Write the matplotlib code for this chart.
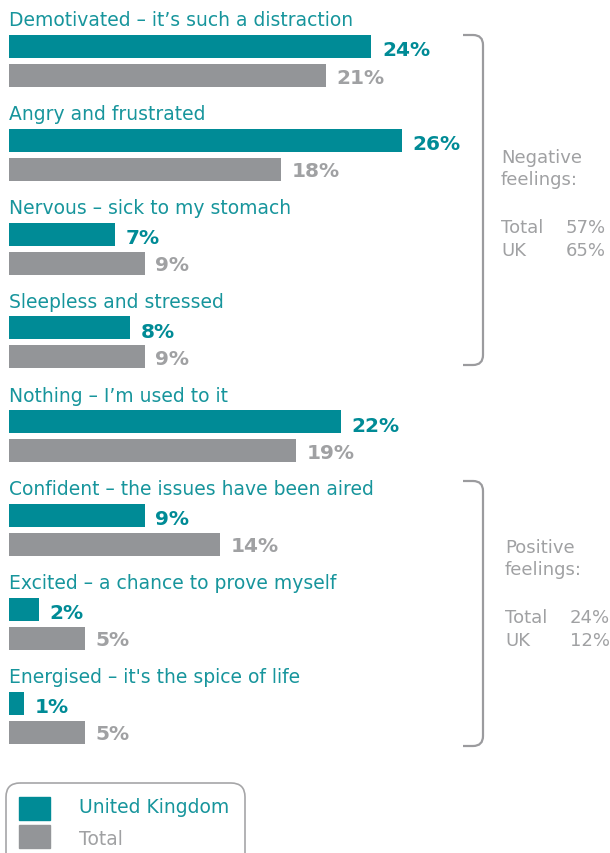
import numpy as np
import matplotlib
matplotlib.use("Agg")
import matplotlib.pyplot as plt
from matplotlib.path import Path
from matplotlib.patches import PathPatch, FancyBboxPatch, Rectangle

plt.rcParams['font.family'] = ['DejaVu Sans']

# data
labels = ["Demotivated \u2013 it\u2019s such a distraction",
          "Angry and frustrated",
          "Nervous \u2013 sick to my stomach",
          "Sleepless and stressed",
          "Nothing \u2013 I\u2019m used to it",
          "Confident \u2013 the issues have been aired",
          "Excited \u2013 a chance to prove myself",
          "Energised \u2013 it's the spice of life"]
uk = [24, 26, 7, 8, 22, 9, 2, 1]
total = [21, 18, 9, 9, 19, 14, 5, 5]
neg_summary = [("Total", "57%"), ("UK", "65%")]
pos_summary = [("Total", "24%"), ("UK", "12%")]

TEAL = "#008B96"
TEAL_TXT = "#17959C"
GREY = "#939598"
GREY_TXT = "#A0A1A3"

W, H = 610, 854
x0, pxper = 9, 15.1
step = 93.8

fig = plt.figure(figsize=(W / 100, H / 100), dpi=100)
ax = fig.add_axes([0, 0, 1, 1])
ax.set_xlim(-x0 / pxper, (W - x0) / pxper)
ax.set_ylim(H, 0)
ax.axis("off")

ov = fig.add_axes([0, 0, 1, 1], zorder=2)
ov.set_xlim(0, W)
ov.set_ylim(H, 0)
ov.axis("off")
ov.patch.set_alpha(0)

for i, lab in enumerate(labels):
    base = i * step
    ax.text(0, 21 + base, lab, color=TEAL_TXT, fontsize=13.5, va="center", ha="left")
    ax.barh(47.5 + base, uk[i], height=23, left=0, color=TEAL)
    ax.barh(76.5 + base, total[i], height=23, left=0, color=GREY)
    ax.text(uk[i] + 0.7, 51 + base, f"{uk[i]}%", color=TEAL, fontsize=14.5,
            fontweight="bold", va="center", ha="left")
    ax.text(total[i] + 0.7, 78 + base, f"{total[i]}%", color=GREY_TXT, fontsize=14.5,
            fontweight="bold", va="center", ha="left")


def bracket(top, bot, xl=463, xr=483, r=10):
    verts = [(xl, top), (xr - r, top), (xr, top), (xr, top + r),
             (xr, bot - r), (xr, bot), (xr - r, bot), (xl, bot)]
    codes = [Path.MOVETO, Path.LINETO, Path.CURVE3, Path.CURVE3,
             Path.LINETO, Path.CURVE3, Path.CURVE3, Path.LINETO]
    ov.add_patch(PathPatch(Path(verts, codes), fill=False, edgecolor="#9B9B9E", lw=1.6))


bracket(36, 366)
bracket(482, 747)

def summary(x, y, title, rows, right):
    ov.text(x, y, title, color=GREY_TXT, fontsize=13, va="center", ha="left", linespacing=1.35)
    for k, (a, b) in enumerate(rows):
        ov.text(x, y + 59 + k * 23, a, color=GREY_TXT, fontsize=13, va="center", ha="left")
        ov.text(right, y + 59 + k * 23, b, color=GREY_TXT, fontsize=13, va="center", ha="right")

summary(501, 169, "Negative\nfeelings:", neg_summary, 606)
summary(505, 559, "Positive\nfeelings:", pos_summary, 610)

# legend
ov.add_patch(FancyBboxPatch((6, 784), 239, 90, boxstyle="round,pad=0,rounding_size=14",
                            fill=False, edgecolor="#A6A6A8", lw=1.2))
ov.add_patch(Rectangle((19, 798), 31, 23, color=TEAL))
ov.add_patch(Rectangle((19, 826), 31, 23, color=GREY))
ov.text(79, 808, "United Kingdom", color=TEAL_TXT, fontsize=13.5, va="center", ha="left")
ov.text(79, 840, "Total", color=GREY_TXT, fontsize=13.5, va="center", ha="left")

fig.savefig("out.png", dpi=100, facecolor="white")
